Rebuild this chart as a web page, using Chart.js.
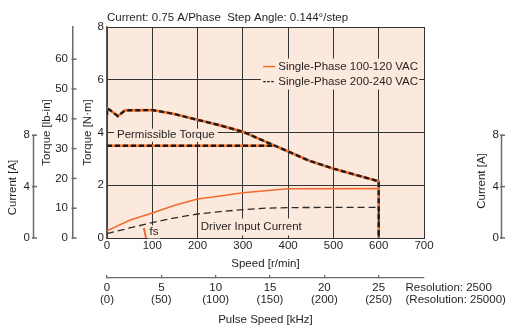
<!DOCTYPE html>
<html><head><meta charset="utf-8">
<script src="https://cdn.jsdelivr.net/npm/chart.js@4.4.1/dist/chart.umd.min.js"></script>
<style>html,body{margin:0;padding:0;background:#fff;}</style>
</head><body>
<canvas id="c" width="509" height="329" style="display:block;width:509px;height:329px"></canvas>
<script>
// ---- tick labels ----
const speedTicks = [0,100,200,300,400,500,600,700];
const torqueTicks = [0,2,4,6,8];
const lbinTicks = [0,10,20,30,40,50,60];
const currentTicks = [0,4,8];
const pulseTicks = [0,5,10,15,20,25];
const pulseLabelsHiRes = ['(0)','(50)','(100)','(150)','(200)','(250)'];

// ---- series (speed r/min, torque N·m, current A) ----
const torqueSpeed = [0,0,5,24,40,100,146,200,250,300,360,400,448,500,550,600,600];
const torqueNm    = [4.65,4.92,4.87,4.62,4.84,4.85,4.71,4.48,4.27,4.03,3.58,3.28,2.92,2.63,2.39,2.15,0];
const permSpeed = [0,368];
const permNm    = [3.5,3.5];
const currentSpeed = [0,50,100,150,200,250,300,350,400,600,600];
const current100   = [0.55,1.38,1.95,2.55,3.04,3.27,3.53,3.68,3.83,3.85,0];
const current200   = [0.34,0.78,1.2,1.57,1.87,2.06,2.21,2.32,2.37,2.39,0];
const fsSpeed = [81.5,86];
const fsNm    = [0.38,0];

const FONT = "'Liberation Sans',Arial,sans-serif";
const FS = 11.5;
const TXT = '#231f20';
const GRID = '#333333';
const AXG = '#6a6a6a';
const ORANGE = '#f26b2d';
const DARK = '#1c1c1c';
const BG = '#fce9dd';
const NM_TO_LBIN = 8.8507;

function pts(xs, ys){ return xs.map((x,i)=>({x:x, y:ys[i]})); }
function ds(label, xs, ys, axis, color, width, dash, order){
  return {label, data: pts(xs,ys), xAxisID:'x', yAxisID:axis, borderColor:color, backgroundColor:color,
    borderWidth:width, borderDash:dash, pointRadius:0, fill:false, tension:0, order:order,
    borderCapStyle:'butt', borderJoinStyle:'miter'};
}

const datasets = [
  ds('Single-Phase 200-240 VAC', torqueSpeed, torqueNm, 'y', DARK, 2.4, [5,3], 1),
  ds('Single-Phase 200-240 VAC perm', permSpeed, permNm, 'y', DARK, 2.4, [5,3], 1),
  ds('Single-Phase 100-120 VAC', torqueSpeed, torqueNm, 'y', ORANGE, 2.6, [], 4),
  ds('Single-Phase 100-120 VAC perm', permSpeed, permNm, 'y', ORANGE, 2.6, [], 4),
  ds('Current 200-240', currentSpeed, current200, 'ycur', '#2b2b2b', 1.3, [7,4], 2),
  ds('Current 100-120', currentSpeed, current100, 'ycur', ORANGE, 1.5, [], 3),
  ds('fs', fsSpeed, fsNm, 'y', ORANGE, 2, [], 3)
];

function setTicks(arr){ return s => { s.ticks = arr.map(v=>({value:v})); }; }
const tickFont = {family:FONT, size:FS};

const deco = {
  id:'deco',
  beforeDraw(chart){
    const {ctx, chartArea:a} = chart;
    ctx.save(); ctx.fillStyle = BG; ctx.fillRect(a.left, a.top, a.right-a.left, a.bottom-a.top); ctx.restore();
  },
  beforeDatasetsDraw(chart){
    const {ctx} = chart; const sx = chart.scales.x, sy = chart.scales.y;
    ctx.save();
    ctx.font = FS + 'px ' + FONT; ctx.textBaseline = 'middle'; ctx.textAlign = 'left';
    const lab = (text, sp, tq, bx0, bx1, h) => {
      const x = sx.getPixelForValue(sp), y = sy.getPixelForValue(tq);
      ctx.fillStyle = BG; ctx.fillRect(x - bx0, y - h/2, ctx.measureText(text).width + bx0 + bx1, h);
      ctx.fillStyle = TXT; ctx.fillText(text, x, y);
    };
    lab('Permissible Torque', 22, 3.9, 3, 3, 13);
    lab('Driver Input Current', 207, 0.42, 2, 2, 17);
    lab('fs', 94, 0.23, 1.5, 1.5, 13);
    // legend
    const lx = sx.getPixelForValue(345), y1 = sy.getPixelForValue(6.5), y2 = sy.getPixelForValue(5.93);
    ctx.fillStyle = BG; ctx.fillRect(lx - 2.5, y1 - 8, 158.5, 31);
    ctx.lineWidth = 1.5; ctx.strokeStyle = ORANGE; ctx.beginPath(); ctx.moveTo(lx, y1); ctx.lineTo(lx+12, y1); ctx.stroke();
    ctx.strokeStyle = DARK; ctx.lineWidth = 1.3; ctx.setLineDash([2.5,1.5]); ctx.beginPath(); ctx.moveTo(lx, y2); ctx.lineTo(lx+12, y2); ctx.stroke();
    ctx.setLineDash([]);
    ctx.fillStyle = TXT;
    ctx.fillText('Single-Phase 100-120 VAC', lx + 15, y1);
    ctx.fillText('Single-Phase 200-240 VAC', lx + 15, y2);
    ctx.restore();
  },
  afterDraw(chart){
    const {ctx, chartArea:a} = chart;
    const sc = chart.scales.ycur, sr = chart.scales.ycurR, sl = chart.scales.ylb;
    ctx.save();
    ctx.fillStyle = TXT; ctx.font = FS + 'px ' + FONT; ctx.textBaseline = 'middle'; ctx.textAlign = 'left';
    ctx.fillText('Current: 0.75 A/Phase  Step Angle: 0.144\u00b0/step', a.left, 17.5);
    ctx.fillText('Resolution: 2500', 405.5, 288);
    ctx.fillText('(Resolution: 25000)', 405.5, 299.5);
    ctx.strokeStyle = AXG; ctx.lineWidth = 1.5;
    const axis = (x, scale, ticks, tl) => {
      ctx.beginPath(); ctx.moveTo(x, scale.getPixelForValue(ticks[0])+0.75); ctx.lineTo(x, scale.getPixelForValue(ticks[ticks.length-1])-0.75); ctx.stroke();
      ticks.forEach(v => { const y = scale.getPixelForValue(v); ctx.beginPath(); ctx.moveTo(x-1.5, y); ctx.lineTo(x+tl, y); ctx.stroke(); });
    };
    axis(sc.right + 0.5, sc, currentTicks, 3.5);
    axis(sr.right + 2.5, sr, currentTicks, 3.5);
    lbinTicks.forEach(v => { const y = sl.getPixelForValue(v); ctx.beginPath(); ctx.moveTo(sl.right - 1.5, y); ctx.lineTo(sl.right + 3.5, y); ctx.stroke(); });
    ctx.fillStyle = TXT; ctx.textAlign = 'center';
    ctx.save(); ctx.translate(13, 187.5); ctx.rotate(-Math.PI/2); ctx.fillText('Current [A]', 0, 0); ctx.restore();
    ctx.save(); ctx.translate(482, 181); ctx.rotate(-Math.PI/2); ctx.fillText('Current [A]', 0, 0); ctx.restore();
    ctx.restore();
  }
};

new Chart(document.getElementById('c'), {
  type:'line',
  data:{datasets},
  plugins:[deco],
  options:{
    responsive:false, animation:false, devicePixelRatio:1,
    layout:{padding:{left:0, right:10, top:27, bottom:0}},
    plugins:{legend:{display:false}, tooltip:{enabled:false}, title:{display:false}},
    scales:{
      x:{type:'linear', axis:'x', position:'bottom', weight:0, min:0, max:700,
        afterBuildTicks:setTicks(speedTicks), afterFit:s=>{s.height=40;},
        grid:{color:GRID, lineWidth:1, drawTicks:false},
        border:{display:true, color:GRID, width:1},
        ticks:{padding:1, color:TXT, font:tickFont, maxRotation:0},
        title:{display:true, text:'Speed [r/min]', color:TXT, font:tickFont, padding:{top:0,bottom:7.6}}},
      x2:{type:'linear', axis:'x', position:'bottom', weight:1, min:0, max:700/24,
        afterBuildTicks:setTicks(pulseTicks), afterFit:s=>{s.height=51;},
        grid:{drawOnChartArea:false, color:AXG, lineWidth:1.3, drawTicks:true, tickLength:-3},
        border:{display:true, color:AXG, width:1.3},
        ticks:{padding:7.2, color:TXT, font:{family:FONT, size:FS, lineHeight:1.0}, maxRotation:0,
          callback:(v,i)=>[String(pulseTicks[i]), pulseLabelsHiRes[i]]},
        title:{display:true, text:'Pulse Speed [kHz]', color:TXT, font:tickFont, padding:{top:0,bottom:2.6}}},
      y:{type:'linear', axis:'y', position:'left', weight:0, min:0, max:8,
        afterBuildTicks:setTicks(torqueTicks), afterFit:s=>{s.width=34;},
        grid:{color:GRID, lineWidth:1, drawTicks:false},
        border:{display:true, color:'#555', width:1.5},
        ticks:{padding:3, color:TXT, font:tickFont},
        title:{display:true, text:'Torque [N\u00b7m]', color:TXT, font:tickFont, padding:{top:7.6,bottom:0}}},
      ylb:{type:'linear', axis:'y', position:'left', weight:1, min:0, max:8*NM_TO_LBIN,
        afterBuildTicks:setTicks(lbinTicks), afterFit:s=>{s.width=40;},
        grid:{drawOnChartArea:false, drawTicks:false},
        border:{display:true, color:AXG, width:1.5},
        ticks:{padding:5, color:TXT, font:tickFont},
        title:{display:true, text:'Torque [lb-in]', color:TXT, font:tickFont, padding:{top:6.8,bottom:0}}},
      ycur:{type:'linear', axis:'y', position:'left', weight:2, min:0, max:16.43,
        afterBuildTicks:setTicks(currentTicks), afterFit:s=>{s.width=33;},
        grid:{drawOnChartArea:false, drawTicks:false},
        border:{display:false},
        ticks:{padding:3, color:TXT, font:tickFont}},
      ycurR:{type:'linear', axis:'y', position:'right', weight:0, min:0, max:16.43,
        afterBuildTicks:setTicks(currentTicks), afterFit:s=>{s.width=75;},
        grid:{drawOnChartArea:false, drawTicks:false},
        border:{display:false},
        ticks:{padding:0, crossAlign:'far', color:TXT, font:tickFont}}
    }
  }
});
</script>
</body></html>
